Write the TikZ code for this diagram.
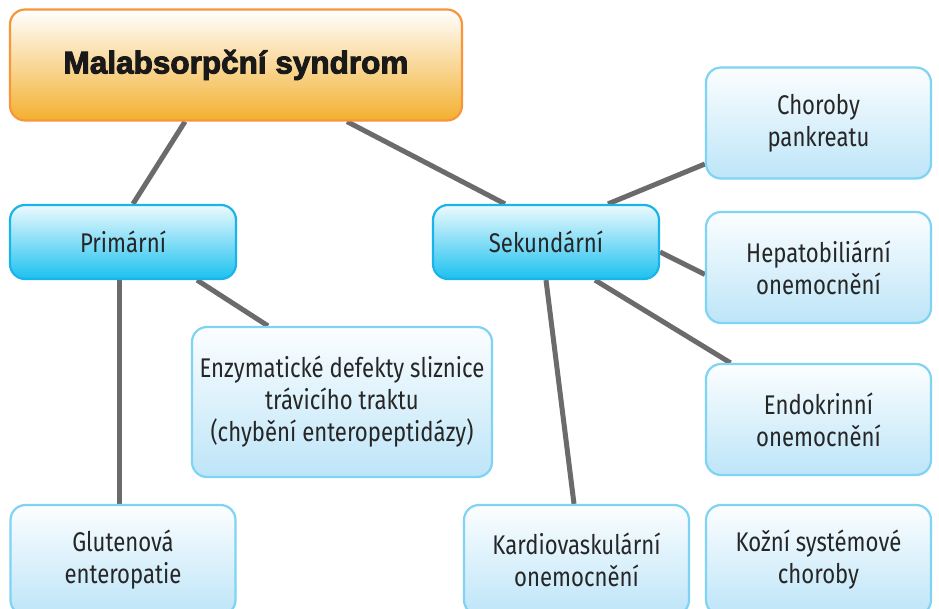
\documentclass[tikz,border=0pt]{standalone}
\usepackage{fontspec}
\setmainfont{Fira Sans}[FakeStretch=0.82]
\newfontfamily\titlefont{Liberation Sans}[FakeBold=3]
\usetikzlibrary{backgrounds}
\definecolor{linkgray}{HTML}{6B6B6B}
\definecolor{rootborder}{HTML}{F7963A}
\definecolor{rootfill}{HTML}{F3B02F}
\definecolor{midborder}{HTML}{1AB5E8}
\definecolor{midfill}{HTML}{1CC1F0}
\definecolor{leafborder}{HTML}{7FD3F3}
\definecolor{leaffill}{HTML}{BDE5F8}
\tikzset{
  box/.style={rounded corners=15pt, line width=2.2pt, align=center,
    inner sep=0pt, text=black!85, font=\fontsize{27}{32}\selectfont},
  rootbox/.style={box, draw=rootborder, top color=white, bottom color=rootfill,
    minimum width=452pt, minimum height=111pt,
    font=\titlefont\bfseries\fontsize{31.5}{36}\selectfont, text=black!90},
  midbox/.style={box, draw=midborder, top color=white!92!midfill, bottom color=midfill,
    minimum width=226pt, minimum height=74pt},
  leafbox/.style={box, draw=leafborder, top color=white!95!leaffill, bottom color=leaffill,
    minimum width=225pt, minimum height=111pt},
  link/.style={draw=linkgray, line width=5pt}
}
\begin{document}
\begin{tikzpicture}[x=1pt,y=-1pt]
\useasboundingbox (0,0) rectangle (939,609);

\node[rootbox] (root) at (236,65) {Malabsorpční syndrom};

\node[midbox] (prim) at (123,242) {Primární};
\node[midbox] (sek) at (546,242) {Sekundární};

\node[leafbox, minimum width=300pt, minimum height=150pt] (enz) at (342,402)
  {Enzymatické defekty sliznice\\trávicího traktu\\(chybění enteropeptidázy)};
\node[leafbox, minimum height=110pt] (glut) at (123,560) {Glutenová\\enteropatie};

\node[leafbox] (chor) at (818.5,123) {Choroby\\pankreatu};
\node[leafbox] (hep) at (818.5,267.5) {Hepatobiliární\\onemocnění};
\node[leafbox] (endo) at (818.5,419.5) {Endokrinní\\onemocnění};
\node[leafbox, minimum height=110pt] (kard) at (576.5,560) {Kardiovaskulární\\onemocnění};
\node[leafbox, minimum height=110pt] (kozni) at (818.5,560) {Kožní systémové\\choroby};

\begin{scope}[on background layer]
  \fill[white] (0,0) rectangle (939,609);
  \draw[link] ([xshift=-51pt]root.south) -- ([xshift=10pt]prim.north);
  \draw[link] ([xshift=111pt]root.south) -- ([xshift=-41pt]sek.north);
  \draw[link] ([xshift=-4pt]prim.south) -- ([xshift=-4pt]glut.north);
  \draw[link] ([xshift=74pt]prim.south) -- ([xshift=-74pt]enz.north);
  \draw[link] ([xshift=62pt]sek.north) -- ([yshift=-41pt]chor.west);
  \draw[link] ([yshift=-10pt]sek.east) -- ([yshift=-7pt]hep.west);
  \draw[link] ([xshift=49pt]sek.south) -- ([xshift=-88pt]endo.north);
  \draw[link] (sek.south) -- ([xshift=-2.5pt]kard.north);
\end{scope}
\end{tikzpicture}
\end{document}
